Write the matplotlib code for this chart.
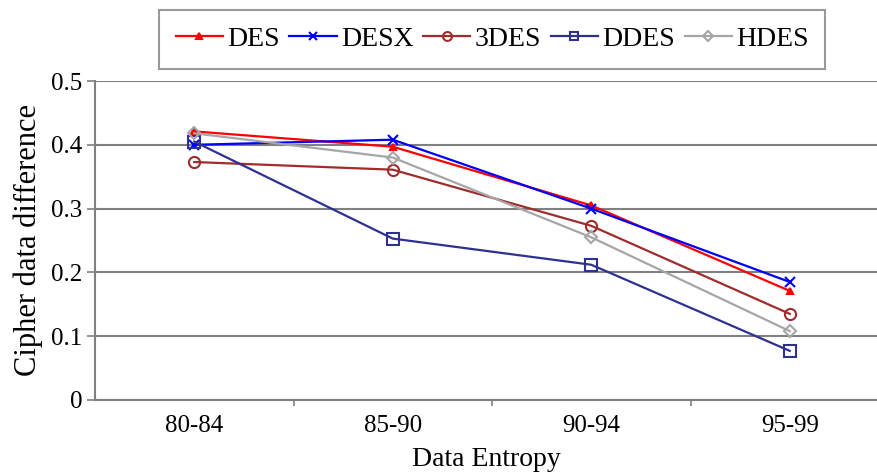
import matplotlib
matplotlib.use("Agg")
import matplotlib.pyplot as plt
from matplotlib.ticker import FixedLocator

categories = ["80-84", "85-90", "90-94", "95-99"]
des = [0.421, 0.397, 0.305, 0.171]
desx = [0.400, 0.408, 0.300, 0.185]
des3 = [0.373, 0.361, 0.273, 0.135]
ddes = [0.405, 0.253, 0.212, 0.077]
hdes = [0.418, 0.380, 0.255, 0.108]
yticks = [0, 0.1, 0.2, 0.3, 0.4, 0.5]
ytick_labels = ["0", "0.1", "0.2", "0.3", "0.4", "0.5"]

plt.rcParams['font.family'] = ['Liberation Serif', 'DejaVu Serif']

fig = plt.figure(figsize=(8.77, 4.75), dpi=100)
ax = fig.add_axes([95/877, 1-400/475, 1-95/877, (400-81)/475])

x = list(range(len(categories)))
series = [
    ("DES", des, "#FF0000", "^", "#FF0000", 5),
    ("DESX", desx, "#0000FF", "x", "#0000FF", 7),
    ("3DES", des3, "#A02C2C", "o", "none", 8),
    ("DDES", ddes, "#2E3192", "s", "none", 8),
    ("HDES", hdes, "#A6A6A6", "D", "none", 6),
]
for name, vals, col, mk, mfc, ms in series:
    ax.plot(x, vals, color=col, marker=mk, markerfacecolor=mfc, markeredgecolor=col,
            markersize=ms, markeredgewidth=1.5, linewidth=1.6, label=name, clip_on=False,
            zorder=3)

ax.set_ylim(0, 0.5)
ax.set_xlim(-0.5, 3.5 - 12/198.5)
ax.yaxis.set_major_locator(FixedLocator(yticks))
ax.set_yticklabels(ytick_labels)
ax.yaxis.grid(True, color="#808080", linewidth=1.5)
ax.set_axisbelow(True)

ax.set_xticks(x)
ax.set_xticklabels(categories)
ax.xaxis.set_minor_locator(FixedLocator([0.5, 1.5, 2.5]))
ax.tick_params(axis='x', which='major', length=0, labelsize=18, pad=11)
ax.tick_params(axis='x', which='minor', length=4, color="#808080", width=1.2)
ax.tick_params(axis='y', length=6, color="#808080", width=1.2, labelsize=18, pad=3)

for s in ["top", "right"]:
    ax.spines[s].set_visible(False)
for s in ["left", "bottom"]:
    ax.spines[s].set_color("#808080")
    ax.spines[s].set_linewidth(1.5)

ax.set_xlabel("Data Entropy", fontsize=20, labelpad=7)
ax.set_ylabel("Cipher data difference", fontsize=22, labelpad=6)

leg = fig.legend(loc="upper left", bbox_to_anchor=(159/877, 1-10/475), ncol=5,
                 fontsize=20, frameon=True, fancybox=False, edgecolor="#808080",
                 handlelength=1.7, handletextpad=0.15, columnspacing=0.35,
                 borderpad=0.6, borderaxespad=0, markerscale=0.8)
leg.get_frame().set_linewidth(1.5)

fig.savefig("out.png", dpi=100)
